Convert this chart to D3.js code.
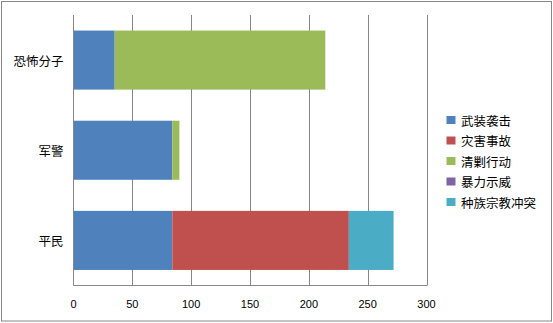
<!DOCTYPE html>
<html>
<head>
<meta charset="utf-8">
<script src="https://cdn.jsdelivr.net/npm/d3@7"></script>
<style>
  html, body { margin: 0; padding: 0; background: #fff; }
  svg { display: block; }
</style>
</head>
<body>
<svg id="chart" width="553" height="323"></svg>
<script>
const categories = ["恐怖分子", "军警", "平民"];
const seriesNames = ["武装袭击", "灾害事故", "清剿行动", "暴力示威", "种族宗教冲突"];
const armedAttack = [35, 84, 84];
const disasterAccident = [0, 0, 150];
const suppressionOps = [179, 6, 0];
const violentProtest = [0, 0, 0];
const ethnicReligiousConflict = [0, 0, 38];
const xTicks = [0, 50, 100, 150, 200, 250, 300];
const colors = ["#4F81BD", "#C0504D", "#9BBB59", "#8064A2", "#4BACC6"];

const seriesValues = [armedAttack, disasterAccident, suppressionOps, violentProtest, ethnicReligiousConflict];
const table = categories.map((c, i) => {
  const row = { category: c };
  seriesNames.forEach((s, j) => { row[s] = seriesValues[j][i]; });
  return row;
});

const svg = d3.select("#chart");
const gridColor = "#868686";
const cjk = "'Noto Sans CJK SC', 'Noto Sans', sans-serif";

// outer border
svg.append("rect")
  .attr("x", 1.5).attr("y", 1.5).attr("width", 550).attr("height", 319.5)
  .attr("fill", "#fff").attr("stroke", gridColor).attr("stroke-width", 1);

const x = d3.scaleLinear().domain([0, 300]).range([73.5, 426.5]);
const y = d3.scaleBand().domain(categories).range([15, 285.5])
  .paddingInner(0.345).paddingOuter(0.1725);

// gridlines
svg.append("g").selectAll("line").data(xTicks.slice(1)).join("line")
  .attr("x1", d => Math.round(x(d)) + 0.5).attr("x2", d => Math.round(x(d)) + 0.5)
  .attr("y1", 15).attr("y2", 285.5)
  .attr("stroke", gridColor).attr("stroke-width", 1);

// stacked bars
const stack = d3.stack().keys(seriesNames)(table);
svg.append("g").selectAll("g").data(stack).join("g")
  .attr("fill", (d, i) => colors[i])
  .selectAll("rect").data(d => d.filter(p => p[1] - p[0] > 0)).join("rect")
  .attr("x", d => x(d[0]))
  .attr("width", d => x(d[1]) - x(d[0]))
  .attr("y", d => y(d.data.category))
  .attr("height", y.bandwidth());

// axes lines
svg.append("line").attr("x1", 73.5).attr("x2", 73.5).attr("y1", 15).attr("y2", 285.5)
  .attr("stroke", gridColor).attr("stroke-width", 1);
svg.append("line").attr("x1", 73.5).attr("x2", 427).attr("y1", 285.5).attr("y2", 285.5)
  .attr("stroke", gridColor).attr("stroke-width", 1);

// x tick labels
svg.append("g").selectAll("text").data(xTicks).join("text")
  .attr("x", d => x(d)).attr("y", 307.5)
  .attr("text-anchor", "middle")
  .style("font-family", "'Liberation Sans', Arial, sans-serif")
  .style("font-size", "11px").attr("fill", "#000")
  .text(d => d);

// category labels
svg.append("g").selectAll("text").data(categories).join("text")
  .attr("x", 63.5).attr("y", d => y(d) + y.bandwidth() / 2)
  .attr("text-anchor", "end").attr("dominant-baseline", "central")
  .style("font-family", cjk).style("font-size", "12.5px").attr("fill", "#000")
  .text(d => d);

// legend
const legend = svg.append("g").selectAll("g").data(seriesNames).join("g")
  .attr("transform", (d, i) => `translate(446.5, ${120 + i * 20.5})`);
legend.append("rect")
  .attr("x", 0).attr("y", -4).attr("width", 9).attr("height", 8)
  .attr("fill", (d, i) => colors[i]);
legend.append("text")
  .attr("x", 14.5).attr("y", 0).attr("dominant-baseline", "central")
  .style("font-family", cjk).style("font-size", "12.5px").attr("fill", "#000")
  .text(d => d);
</script>
</body>
</html>
